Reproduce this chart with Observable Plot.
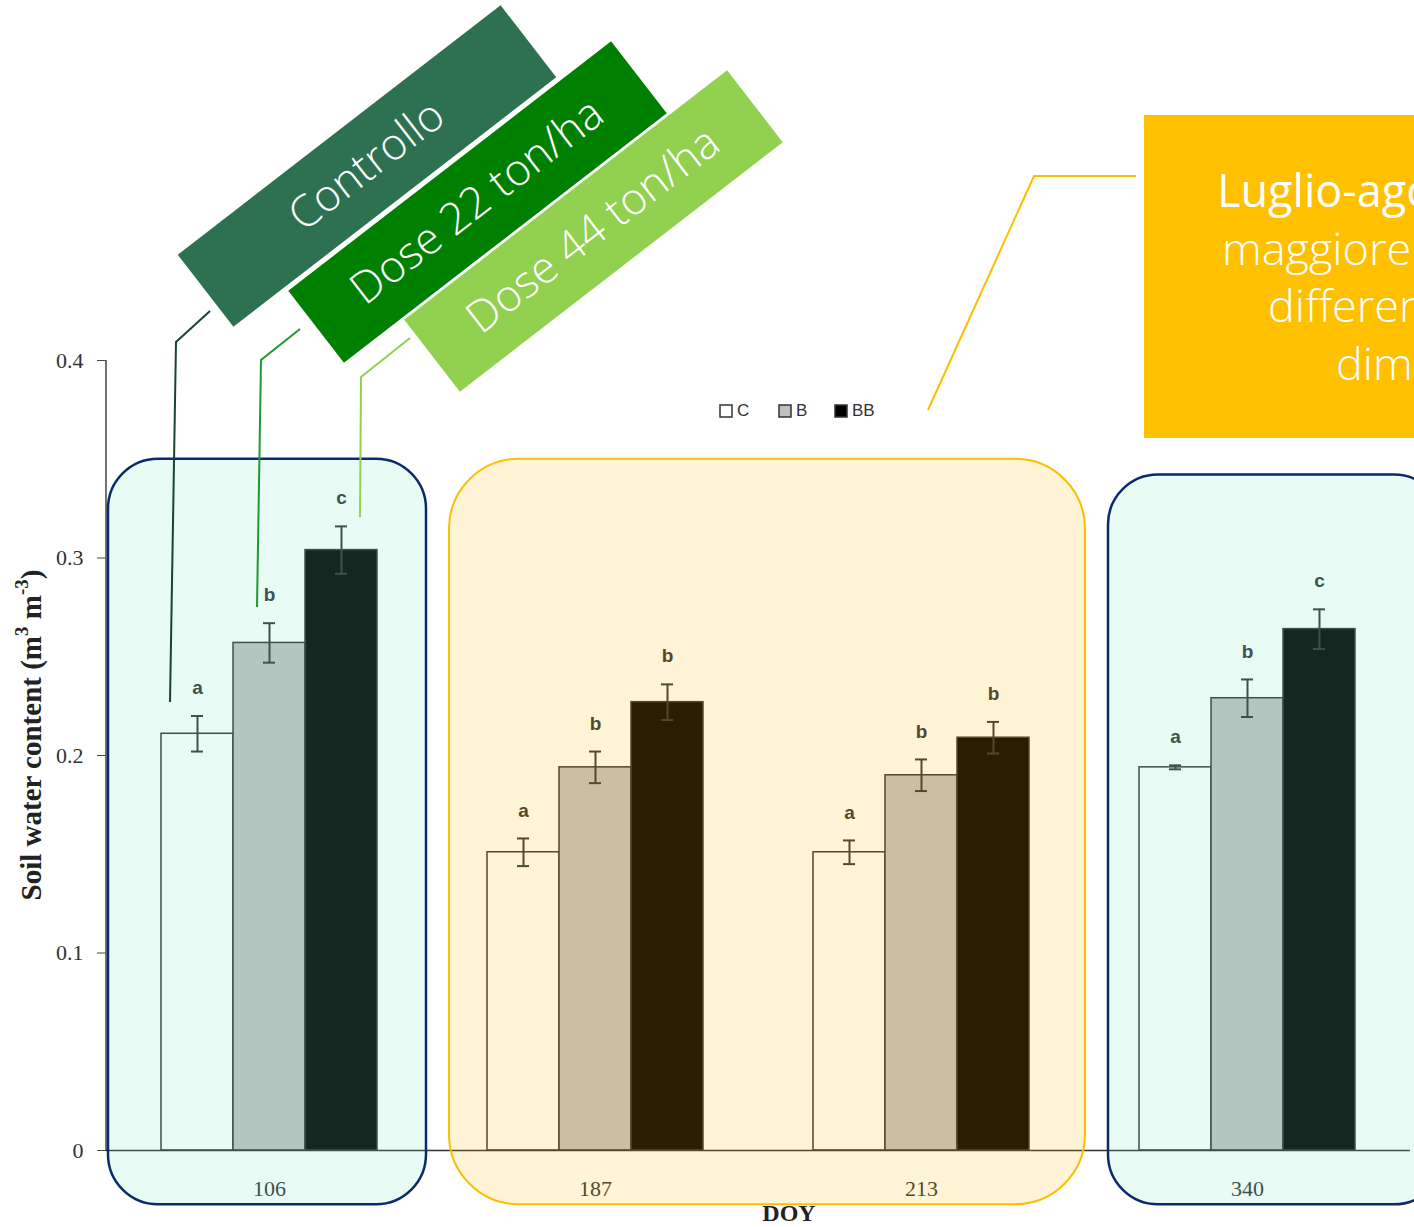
<!DOCTYPE html>
<html><head><meta charset="utf-8">
<script src="https://cdn.jsdelivr.net/npm/d3@7"></script>
<script src="https://cdn.jsdelivr.net/npm/@observablehq/plot@0.6"></script>
<style>
html,body{margin:0;padding:0;background:#fff;overflow:hidden;}
#chart svg{display:block;overflow:hidden;}
</style>
</head><body><div id="chart"></div>
<script>
// ---- data ----
const doys = [106, 187, 213, 340];
const treatments = ["C", "B", "BB"];
const meanC  = [0.211, 0.151, 0.151, 0.194];
const meanB  = [0.257, 0.194, 0.190, 0.229];
const meanBB = [0.304, 0.227, 0.209, 0.264];
const errC  = [0.009, 0.007, 0.006, 0.001];
const errB  = [0.010, 0.008, 0.008, 0.0095];
const errBB = [0.012, 0.009, 0.008, 0.010];
const letC  = ["a", "a", "a", "a"];
const letB  = ["b", "b", "b", "b"];
const letBB = ["c", "b", "b", "c"];
const yTicks = [0, 0.1, 0.2, 0.3, 0.4];
const bannerLabels = ["Controllo", "Dose 22 ton/ha", "Dose 44 ton/ha"];
const calloutLines = ["Luglio-agosto:", "maggiore", "differenze", "dimostrate"];
const yTitle = "Soil water content";
const xTitle = "DOY";

const rows = [];
doys.forEach((doy, i) => {
  [[meanC, errC, letC], [meanB, errB, letB], [meanBB, errBB, letBB]].forEach(([m, e, l], j) => {
    rows.push({doy, trt: treatments[j], mean: m[i], err: e[i], letter: l[i]});
  });
});

const serif = "'Liberation Serif', 'Times New Roman', serif";
const sans = "'Liberation Sans', Arial, sans-serif";
const light = "'Open Sans', 'Noto Sans', sans-serif";

const plot = Plot.plot({
  width: 1414, height: 1227,
  marginTop: 360, marginBottom: 77, marginLeft: 105, marginRight: 4,
  style: {background: "transparent", color: "#333", fontFamily: sans},
  fx: {domain: doys, padding: 0},
  x: {domain: treatments, paddingInner: 0, paddingOuter: 0.755, axis: null},
  y: {domain: [0, 0.4]},
  color: {domain: treatments, range: ["#ffffff", "#c0c0c0", "#000000"]},
  marks: [
    Plot.axisY({ticks: yTicks, tickSize: 9, tickPadding: 14, tickFormat: d3.format(".1~f"), fontSize: 22, fontFamily: serif, label: null, stroke: "#444", fill: "#333"}),
    Plot.axisFx({anchor: "bottom", tickSize: 0, tickPadding: 30, fontSize: 22, fontFamily: serif, label: null, fill: "#333"}),
    Plot.barY(rows, {fx: "doy", x: "trt", y: "mean", fill: "trt", stroke: "#333", strokeWidth: 1.5}),
    Plot.ruleY([0], {stroke: "#333", strokeWidth: 1.5}),
    Plot.ruleX(rows, {fx: "doy", x: "trt", y1: d => d.mean - d.err, y2: d => d.mean + d.err, stroke: "#333", strokeWidth: 2}),
    Plot.tickY(rows, {fx: "doy", x: "trt", y: d => d.mean - d.err, insetLeft: 30, insetRight: 30, stroke: "#333", strokeWidth: 2}),
    Plot.tickY(rows, {fx: "doy", x: "trt", y: d => d.mean + d.err, insetLeft: 30, insetRight: 30, stroke: "#333", strokeWidth: 2}),
    Plot.text(rows, {fx: "doy", x: "trt", y: d => d.mean + d.err, text: "letter", dy: -28, fontSize: 19, fontWeight: "bold", fill: "#333"})
  ]
});
document.getElementById("chart").appendChild(plot);

// ---- annotations ----
const svg = d3.select(plot);
const fx = plot.scale("fx"), y = plot.scale("y");
const bw = fx.bandwidth;
const X = d => fx.apply(d);
const Y = v => y.apply(v);

// y axis line
svg.append("line").attr("x1", X(106)).attr("x2", X(106)).attr("y1", Y(0.4)).attr("y2", Y(0))
  .attr("stroke", "#444").attr("stroke-width", 1.5);

// highlight boxes (translucent overlays)
const boxes = [
  {x1: X(106) + 2, x2: X(106) + 320, top: 0.35, fill: "rgb(120,229,198)", op: 0.17, stroke: "#0b2a6b", sw: 2.5, r: 50},
  {x1: X(187) + 17, x2: X(213) + bw + 1, top: 0.35, fill: "rgb(252,190,0)", op: 0.16, stroke: "#fcbf00", sw: 2, r: 70},
  {x1: X(340) + 24, x2: X(340) + 360, top: 0.342, fill: "rgb(120,229,198)", op: 0.17, stroke: "#0b2a6b", sw: 2.5, r: 50}
];
boxes.forEach(b => {
  svg.append("rect").attr("x", b.x1).attr("y", Y(b.top)).attr("width", b.x2 - b.x1)
    .attr("height", Y(-0.0275) - Y(b.top)).attr("rx", b.r).attr("ry", b.r)
    .attr("fill", b.fill).attr("fill-opacity", b.op).attr("stroke", b.stroke).attr("stroke-width", b.sw);
});

// y title
const yt = svg.append("text").attr("transform", `translate(34,735) rotate(-90)`)
  .attr("text-anchor", "middle").attr("dominant-baseline", "middle")
  .attr("font-family", serif).attr("font-weight", "bold").attr("font-size", 29).attr("fill", "#222");
yt.append("tspan").text(yTitle + " (m");
yt.append("tspan").attr("baseline-shift", "super").attr("font-size", 19).text("3");
yt.append("tspan").text(" m");
yt.append("tspan").attr("baseline-shift", "super").attr("font-size", 19).text("-3");
yt.append("tspan").text(")");

// x title
svg.append("text").attr("x", 789).attr("y", 1215).attr("text-anchor", "middle").attr("dominant-baseline", "middle")
  .attr("font-family", serif).attr("font-weight", "bold").attr("font-size", 24).attr("fill", "#222").text(xTitle);

// legend
const legendItems = [
  {label: treatments[0], x: 720, fill: "#ffffff"},
  {label: treatments[1], x: 779, fill: "#c0c0c0"},
  {label: treatments[2], x: 835, fill: "#000000"}
];
legendItems.forEach(it => {
  svg.append("rect").attr("x", it.x).attr("y", 405).attr("width", 12).attr("height", 12)
    .attr("fill", it.fill).attr("stroke", "#333").attr("stroke-width", 1.5);
  svg.append("text").attr("x", it.x + 17).attr("y", 412).attr("text-anchor", "start").attr("dominant-baseline", "middle")
    .attr("font-family", sans).attr("font-size", 17).attr("fill", "#333").text(it.label);
});

// leader lines
const leaders = [
  {pts: [[210,311],[176,342],[170,702]], color: "#1b4332"},
  {pts: [[300,329],[261,360],[257,607]], color: "#1f9a2f"},
  {pts: [[410,338],[361,377],[360,517]], color: "#92d050"},
  {pts: [[928,410],[1034,176],[1136,176]], color: "#fcbf00"}
];
leaders.forEach(l => {
  svg.append("polyline").attr("points", l.pts.map(p => p.join(",")).join(" "))
    .attr("fill", "none").attr("stroke", l.color).attr("stroke-width", 2);
});

// banners
const bannerSpecs = [
  {cx: 367, cy: 166, fill: "#2e7150"},
  {cx: 477.5, cy: 202, fill: "#008000"},
  {cx: 593.5, cy: 231, fill: "#92d050"}
];
bannerSpecs.forEach((b, i) => {
  const g = svg.append("g").attr("transform", `translate(${b.cx},${b.cy}) rotate(-37.7)`);
  g.append("rect").attr("x", -204).attr("y", -45.5).attr("width", 408).attr("height", 91).attr("fill", b.fill);
  g.append("text").attr("text-anchor", "middle").attr("dominant-baseline", "middle").attr("y", 2)
    .attr("font-family", light).attr("font-weight", 300).attr("font-size", 44).attr("fill", "#fff")
    .text(bannerLabels[i]);
});

// callout box
svg.append("rect").attr("x", 1144).attr("y", 115).attr("width", 300).attr("height", 323).attr("fill", "#ffc000");
const callPos = [[1217, 207, 400], [1222, 265, 300], [1268, 322, 300], [1336, 380, 300]];
calloutLines.forEach((t, i) => {
  svg.append("text").attr("x", callPos[i][0]).attr("y", callPos[i][1]).attr("text-anchor", "start")
    .attr("font-family", light).attr("font-weight", callPos[i][2]).attr("font-size", 45).attr("fill", "#fff").text(t);
});
</script>
</body></html>
